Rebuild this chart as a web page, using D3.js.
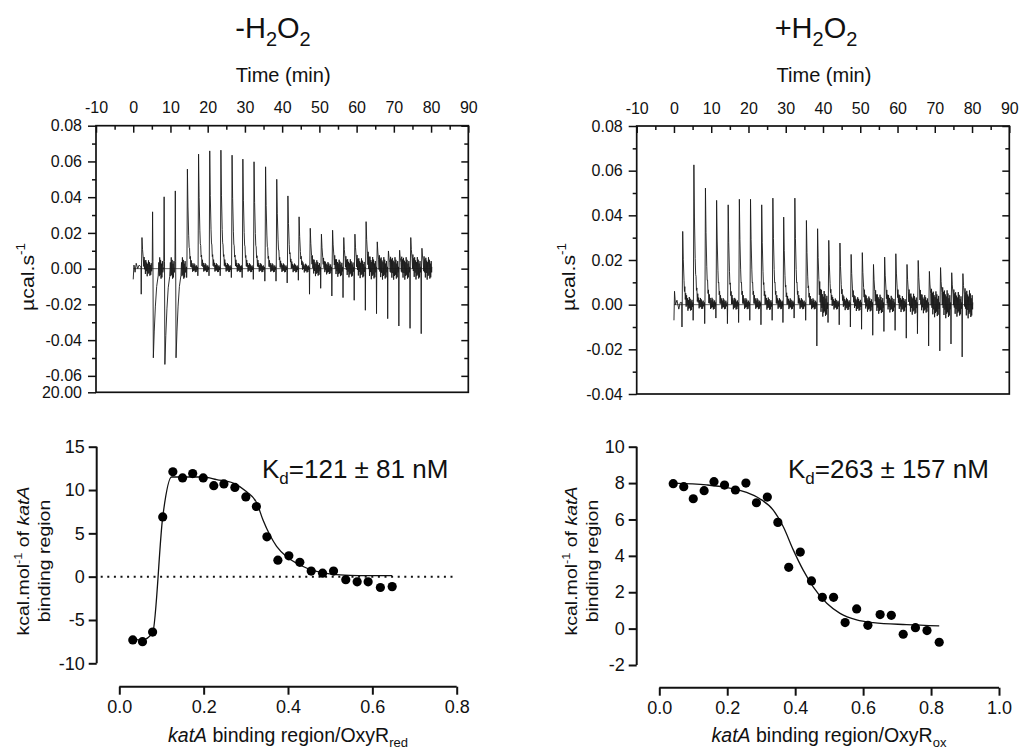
<!DOCTYPE html>
<html lang="en">
<head>
  <meta charset="UTF-8">
  <title>ITC katA / OxyR</title>
  <script src="https://d3js.org/d3.v7.min.js"></script>
  <style>
    body { margin: 0; background: #fff; }
    text { font-family: Arial, "Liberation Sans", sans-serif; fill: #111; }
  </style>
</head>
<body>
  <div id="root"></div>
  <script>
    // ---- raw thermograms (time in min, heat rate in µcal/s) ----
    const injectionTimes = [2.2, 5.2, 8.3, 11.3, 14.4, 17.4, 20.4, 23.4, 26.4, 29.3, 32.3, 35.4, 38.4,
      41.4, 44.4, 47.4, 50.4, 53.4, 56.4, 59.4, 62.4, 65.4, 68.4, 71.4, 74.4, 77.4]
    const timeTicks = [-10, 0, 10, 20, 30, 40, 50, 60, 70, 80, 90]
    const timeMinorTicks = [-5, 5, 15, 25, 35, 45, 55, 65, 75, 85]

    // -H2O2 (reduced OxyR)
    const redPeaks = [0.0174, 0.0318, 0.0402, 0.0435, 0.0557, 0.0641, 0.0659, 0.0663, 0.0635, 0.0613, 0.0598,
      0.057, 0.050, 0.0407, 0.029, 0.0226, 0.0193, 0.0215, 0.0174, 0.0193, 0.0263, 0.015, 0.0099, 0.0103, 0.0174, 0.0114]
    const redDips = [-0.0143, -0.0499, -0.0536, -0.0499, -0.005, -0.004, -0.004, -0.004, -0.005, -0.005, -0.006,
      -0.007, -0.007, -0.008, -0.0065, -0.0143, -0.011, -0.0153, -0.0162, -0.0177, -0.0233, -0.0252, -0.028, -0.0321, -0.0334, -0.0364]
    const redLead = [[0, -0.006], [0.2, 0.002], [0.5, -0.002], [0.8, 0.003], [1.2, 0], [1.6, 0.002]]
    const redYTicks = [-0.0692, -0.06, -0.04, -0.02, 0, 0.02, 0.04, 0.06, 0.08]
    const redYTickLabels = ['20.00', '-0.06', '-0.04', '-0.02', '0.00', '0.02', '0.04', '0.06', '0.08']
    const redYMinor = [-0.05, -0.03, -0.01, 0.01, 0.03, 0.05, 0.07]

    // +H2O2 (oxidised OxyR)
    const oxPeaks = [0.0328, 0.0626, 0.0522, 0.0467, 0.0447, 0.0472, 0.0472, 0.0447, 0.0477, 0.0392, 0.0477,
      0.0377, 0.034, 0.0288, 0.0276, 0.0225, 0.0233, 0.018, 0.0213, 0.0228, 0.018, 0.0198, 0.0149, 0.0166, 0.0143, 0.0139]
    const oxDips = [-0.010, -0.007, -0.0085, -0.006, -0.0085, -0.008, -0.007, -0.009, -0.007, -0.008, -0.006,
      -0.007, -0.0185, -0.008, -0.009, -0.010, -0.011, -0.0137, -0.012, -0.0115, -0.015, -0.013, -0.0185, -0.0207, -0.0176, -0.0234]
    const oxLead = [[0, -0.007], [0.15, 0.006], [0.4, 0], [0.8, 0.002], [1.3, -0.002], [1.7, 0.001]]
    const oxYTicks = [-0.04, -0.02, 0, 0.02, 0.04, 0.06, 0.08]
    const oxYTickLabels = ['-0.04', '-0.02', '0.00', '0.02', '0.04', '0.06', '0.08']
    const oxYMinor = [-0.03, -0.01, 0.01, 0.03, 0.05, 0.07]

    // ---- integrated isotherms (molar ratio, kcal/mol) ----
    const redRatio = [0.032, 0.055, 0.079, 0.103, 0.127, 0.150, 0.174, 0.199, 0.224, 0.248, 0.274, 0.300, 0.325,
      0.350, 0.376, 0.402, 0.428, 0.455, 0.482, 0.508, 0.537, 0.564, 0.590, 0.619, 0.647]
    const redHeat = [-7.3, -7.5, -6.4, 6.9, 12.1, 11.4, 11.9, 11.4, 10.5, 10.7, 10.3, 9.2, 8.1,
      4.6, 1.9, 2.4, 1.65, 0.65, 0.4, 0.65, -0.35, -0.6, -0.6, -1.25, -1.15]
    const redFitX = [0.032, 0.055, 0.079, 0.103, 0.124, 0.199, 0.231, 0.270, 0.302, 0.326, 0.341, 0.357, 0.373,
      0.397, 0.428, 0.468, 0.507, 0.547, 0.587, 0.647]
    const redFitY = [-7.2, -7.3, -6.5, 6.9, 11.5, 11.5, 11.2, 10.8, 9.8, 8.5, 6.5, 4.8, 3.5,
      2.3, 1.35, 0.6, 0.27, 0.15, 0.12, 0.12]

    const oxRatio = [0.041, 0.072, 0.100, 0.132, 0.161, 0.192, 0.224, 0.255, 0.286, 0.318, 0.349, 0.381, 0.415,
      0.448, 0.480, 0.513, 0.547, 0.581, 0.614, 0.650, 0.683, 0.718, 0.754, 0.788, 0.824]
    const oxHeat = [7.97, 7.8, 7.14, 7.58, 8.08, 7.89, 7.62, 8.0, 6.92, 7.23, 5.84, 3.37, 4.21,
      2.62, 1.72, 1.72, 0.33, 1.08, 0.18, 0.77, 0.73, -0.31, 0.05, -0.11, -0.75]
    const oxFitX = [0.041, 0.139, 0.198, 0.257, 0.296, 0.336, 0.365, 0.395, 0.424, 0.453, 0.493, 0.532, 0.581, 0.630, 0.728, 0.824]
    const oxFitY = [8.0, 7.9, 7.76, 7.49, 7.14, 6.5, 5.6, 4.3, 3.2, 2.3, 1.39, 0.84, 0.48, 0.33, 0.22, 0.15]

    const redXTicks = [0, 0.2, 0.4, 0.6, 0.8]
    const redXTickLabels = ['0.0', '0.2', '0.4', '0.6', '0.8']
    const redYTicksB = [-10, -5, 0, 5, 10, 15]
    const oxXTicks = [0, 0.2, 0.4, 0.6, 0.8, 1.0]
    const oxXTickLabels = ['0.0', '0.2', '0.4', '0.6', '0.8', '1.0']
    const oxYTicksB = [-2, 0, 2, 4, 6, 8, 10]

    const width = 1023
    const height = 754

    const svg = d3.select('#root')
      .append('svg')
        .attr('width', width)
        .attr('height', height)

    svg.append('rect').attr('width', width).attr('height', height).attr('fill', '#fff')

    // shape of one injection peak (time offset, fraction of the peak)
    const peakShape = [[0, 0], [0.15, 1], [0.3, 0.62], [0.5, 0.33], [0.75, 0.15], [1.1, 0.05], [1.6, 0.01], [2.9, 0]]
    // settling noise after each injection (time offset, fraction of the noise level)
    const settle = [[0.62, -0.6], [0.72, 0.7], [0.84, -0.5], [0.95, 0.6], [1.07, -0.8], [1.19, 0.8], [1.31, -0.4],
      [1.43, 0.6], [1.55, -0.9], [1.67, 0.5], [1.79, -0.6], [1.91, 0.9], [2.03, -0.5], [2.15, 0.7], [2.27, -0.8],
      [2.39, 0.4], [2.51, -0.7], [2.63, 0.6], [2.75, -0.3]]
    const decay = d3.scaleLinear().domain(peakShape.map(d => d[0])).range(peakShape.map(d => d[1])).clamp(true)

    function tracePoints(peaks, dips, lead, endT) {
      const pts = lead.slice()
      injectionTimes.forEach((t, i) => {
        const P = peaks[i]
        const D = dips[i]
        const n = Math.max(0.0028, Math.min(0.007, -D * 0.35))
        if (-D > 0.04) {
          // thin exothermic spike, then a broad endothermic return
          const wide = [[0.2, 1], [0.45, 0.7], [0.75, 0.42], [1.1, 0.2], [1.5, 0.08]]
          pts.push([t - 0.1, 0.001], [t, P], [t + 0.1, 0.004])
          wide.forEach(([dt, f]) => pts.push([t + dt, D * f]))
          settle.filter(d => d[0] > 1.6).forEach(([dt, f]) => pts.push([t + dt, n * f]))
        } else {
          pts.push([t - 0.12, 0.001], [t - 0.05, D], [t + 0.02, 0])
          peakShape.filter(d => d[0] > 0 && d[0] < 0.6).forEach(([dt, f]) => pts.push([t + dt, P * f]))
          settle.forEach(([dt, f]) => pts.push([t + dt, P * decay(dt) + n * f]))
        }
      })
      pts.push([endT, 0.001])
      return pts.sort((a, b) => a[0] - b[0])
    }

    function styleAxis(g, size) {
      g.attr('font-family', 'Arial, "Liberation Sans", sans-serif')
        .attr('font-size', size)
      g.select('.domain').remove()
      g.selectAll('line').attr('stroke', '#111').attr('stroke-width', 1.5)
      g.selectAll('text').attr('fill', '#111')
    }

    function thermogram(o) {
      const x = d3.scaleLinear().domain([-10, 90]).range([o.left, o.right])
      const y = d3.scaleLinear().domain(o.yDomain).range([o.bottom, o.top])
      const g = svg.append('g')

      // top time axis, ticks pointing into the frame
      g.append('g')
        .attr('transform', `translate(0,${o.top})`)
        .call(d3.axisTop(x).tickValues(timeTicks).tickSize(-7).tickPadding(12.5).tickFormat(d => d))
        .call(s => styleAxis(s, 16))
      g.append('g')
        .attr('transform', `translate(0,${o.top})`)
        .call(d3.axisTop(x).tickValues(timeMinorTicks).tickSize(-4).tickFormat(''))
        .call(s => styleAxis(s, 16))

      // left heat axis
      g.append('g')
        .attr('transform', `translate(${o.left},0)`)
        .call(d3.axisLeft(y).tickValues(o.yTicks).tickSize(8).tickPadding(6).tickFormat((d, i) => o.yLabels[i]))
        .call(s => styleAxis(s, 16))
      g.append('g')
        .attr('transform', `translate(${o.left},0)`)
        .call(d3.axisLeft(y).tickValues(o.yMinor).tickSize(4).tickFormat(''))
        .call(s => styleAxis(s, 16))

      // right axis, inner ticks only
      g.append('g')
        .attr('transform', `translate(${o.right},0)`)
        .call(d3.axisRight(y).tickValues(o.yTicks.filter(v => v > o.yDomain[0])).tickSize(-7).tickFormat(''))
        .call(s => styleAxis(s, 16))
      g.append('g')
        .attr('transform', `translate(${o.right},0)`)
        .call(d3.axisRight(y).tickValues(o.yMinor).tickSize(-4).tickFormat(''))
        .call(s => styleAxis(s, 16))

      g.append('rect')
        .attr('x', o.left).attr('y', o.top)
        .attr('width', o.right - o.left).attr('height', o.bottom - o.top)
        .attr('fill', 'none').attr('stroke', '#111').attr('stroke-width', 1.7)

      // baseline
      g.append('line')
        .attr('x1', x(0)).attr('x2', x(80.2))
        .attr('y1', y(0)).attr('y2', y(0))
        .attr('stroke', '#666').attr('stroke-width', 1)

      const line = d3.line().x(d => x(d[0])).y(d => y(d[1]))
      g.append('path')
        .attr('d', line(tracePoints(o.peaks, o.dips, o.lead, 80.2)))
        .attr('fill', 'none')
        .attr('stroke', '#1a1a1a')
        .attr('stroke-width', 0.9)
        .attr('stroke-linejoin', 'round')

      g.append('text')
        .attr('x', (o.left + o.right) / 2 + 1)
        .attr('y', 82)
        .attr('text-anchor', 'middle')
        .attr('font-size', 20)
        .text('Time (min)')

      const yl = g.append('g')
        .attr('transform', `translate(${o.left - 62},${o.labelY}) rotate(-90) scale(1.12,1)`)
        .append('text')
          .attr('text-anchor', 'middle')
          .attr('font-size', 19)
      yl.append('tspan').text('µcal.s')
      yl.append('tspan').attr('dy', -9).attr('font-size', 12).text('-1')
    }

    function isotherm(o) {
      const x = d3.scaleLinear().domain(o.xDomain).range([o.xStart, o.xEnd])
      const y = d3.scaleLinear().domain(o.yDomain).range([o.yBottom, o.yTop])
      const g = svg.append('g')

      g.append('line')
        .attr('x1', o.yAxisX).attr('x2', o.yAxisX)
        .attr('y1', y(o.yDomain[0])).attr('y2', y(o.yDomain[1]))
        .attr('stroke', '#111').attr('stroke-width', 2)
      g.append('g')
        .attr('transform', `translate(${o.yAxisX},0)`)
        .call(d3.axisLeft(y).tickValues(o.yTicks).tickSize(8).tickPadding(4).tickFormat(d => d))
        .call(s => styleAxis(s, 18))
        .call(s => s.selectAll('line').attr('stroke-width', 2))

      g.append('line')
        .attr('x1', x(o.xDomain[0])).attr('x2', x(o.xDomain[1]))
        .attr('y1', o.xAxisY).attr('y2', o.xAxisY)
        .attr('stroke', '#111').attr('stroke-width', 2)
      g.append('g')
        .attr('transform', `translate(0,${o.xAxisY})`)
        .call(d3.axisBottom(x).tickValues(o.xTicks).tickSize(8).tickPadding(6).tickFormat((d, i) => o.xLabels[i]))
        .call(s => styleAxis(s, 18))
        .call(s => s.selectAll('line').attr('stroke-width', 2))

      if (o.zeroLine) {
        g.append('line')
          .attr('x1', o.yAxisX + 4).attr('x2', x(o.xDomain[1]))
          .attr('y1', y(0)).attr('y2', y(0))
          .attr('stroke', '#111').attr('stroke-width', 2)
          .attr('stroke-dasharray', '2,4.6')
      }

      const fit = o.fitX.map((v, i) => [v, o.fitY[i]])
      g.append('path')
        .attr('d', d3.line().curve(d3.curveMonotoneX).x(d => x(d[0])).y(d => y(d[1]))(fit))
        .attr('fill', 'none').attr('stroke', '#111').attr('stroke-width', 1.3)

      g.selectAll('circle')
        .data(o.ratio.map((v, i) => [v, o.heat[i]]))
        .join('circle')
          .attr('cx', d => x(d[0]))
          .attr('cy', d => y(d[1]))
          .attr('r', 4.6)
          .attr('fill', '#000')

      // Kd annotation
      const kd = g.append('text')
        .attr('x', o.kdX).attr('y', 478)
        .attr('font-size', 26)
      kd.append('tspan').text('K')
      kd.append('tspan').attr('dy', 6).attr('font-size', 17).text('d')
      kd.append('tspan').attr('dy', -6).text(o.kdText)

      // x title
      const xt = g.append('text')
        .attr('x', o.xTitleX).attr('y', 742)
        .attr('text-anchor', 'middle')
        .attr('font-size', 19.5)
      xt.append('tspan').attr('font-style', 'italic').text('katA')
      xt.append('tspan').text(' binding region/OxyR')
      xt.append('tspan').attr('dy', 5).attr('font-size', 13).text(o.sub)

      // y title, two lines
      const yt = g.append('g')
        .attr('transform', `translate(${o.yTitleX},561) rotate(-90) scale(1.15,1)`)
      const l1 = yt.append('text').attr('text-anchor', 'middle').attr('y', 0).attr('font-size', 17)
      l1.append('tspan').text('kcal.mol')
      l1.append('tspan').attr('dy', -7).attr('font-size', 11).text('-1')
      l1.append('tspan').attr('dy', 7).text(' of ')
      l1.append('tspan').attr('font-style', 'italic').text('katA')
      yt.append('text').attr('text-anchor', 'middle').attr('y', 21).attr('font-size', 17).text('binding region')
    }

    thermogram({
      left: 96, right: 468.3, top: 125.7, bottom: 392.3,
      yDomain: [-0.0692, 0.08], yTicks: redYTicks, yLabels: redYTickLabels, yMinor: redYMinor,
      peaks: redPeaks, dips: redDips, lead: redLead, labelY: 277
    })
    thermogram({
      left: 636.7, right: 1009.3, top: 126, bottom: 394,
      yDomain: [-0.04, 0.08], yTicks: oxYTicks, yLabels: oxYTickLabels, yMinor: oxYMinor,
      peaks: oxPeaks, dips: oxDips, lead: oxLead, labelY: 277
    })

    isotherm({
      xDomain: [0, 0.8], xStart: 119.3, xEnd: 456.7, yDomain: [-10, 15], yBottom: 663.3, yTop: 446.7,
      yAxisX: 96.7, xAxisY: 686.7, yTicks: redYTicksB, xTicks: redXTicks, xLabels: redXTickLabels,
      ratio: redRatio, heat: redHeat, fitX: redFitX, fitY: redFitY, zeroLine: true,
      kdX: 262, kdText: '=121 ± 81 nM', xTitleX: 288, sub: 'red', yTitleX: 29
    })
    isotherm({
      xDomain: [0, 1.0], xStart: 659.3, xEnd: 999, yDomain: [-2, 10], yBottom: 665, yTop: 446.7,
      yAxisX: 636.7, xAxisY: 687.7, yTicks: oxYTicksB, xTicks: oxXTicks, xLabels: oxXTickLabels,
      ratio: oxRatio, heat: oxHeat, fitX: oxFitX, fitY: oxFitY, zeroLine: false,
      kdX: 788, kdText: '=263 ± 157 nM', xTitleX: 829, sub: 'ox', yTitleX: 577
    })

    // panel titles
    function title(cx, sign) {
      const t = svg.append('text')
        .attr('x', cx).attr('y', 38)
        .attr('text-anchor', 'middle')
        .attr('font-family', 'Lato, "Open Sans", sans-serif')
        .attr('font-size', 29)
      t.append('tspan').text(sign + 'H')
      t.append('tspan').attr('dy', 8).attr('font-size', 20).text('2')
      t.append('tspan').attr('dy', -8).text('O')
      t.append('tspan').attr('dy', 8).attr('font-size', 20).text('2')
    }
    title(273, '-')
    title(816, '+')
  </script>
</body>
</html>
